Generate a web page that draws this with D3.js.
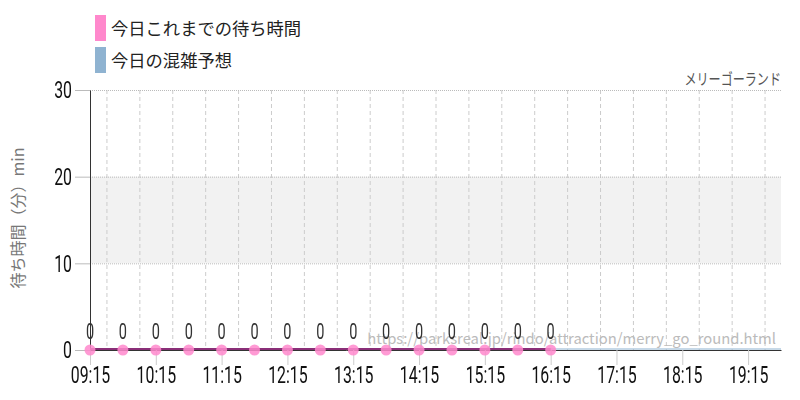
<!DOCTYPE html>
<html>
<head>
<meta charset="utf-8">
<script src="https://cdn.jsdelivr.net/npm/d3@7"></script>
<style>
  body { margin: 0; background: #fff; }
  .num { font-family: Roboto, sans-serif; font-weight: 400; }
  .jp { font-family: "Noto Sans CJK JP", sans-serif; }
</style>
</head>
<body>
<div id="chart"></div>
<script>
// data
const waitTimes = ['09:15', '09:45', '10:15', '10:45', '11:15', '11:45', '12:15', '12:45', '13:15', '13:45', '14:15', '14:45', '15:15', '15:45', '16:15'];
const waitValues = [0, 0, 0, 0, 0, 0, 0, 0, 0, 0, 0, 0, 0, 0, 0];
const forecastTimes = ['09:15', '19:45'];
const forecastValues = [0, 0];
const xTickLabels = ['09:15', '10:15', '11:15', '12:15', '13:15', '14:15', '15:15', '16:15', '17:15', '18:15', '19:15'];
const yTicks = [0, 10, 20, 30];
const band = [10, 20];
const legendLabels = ['今日これまでの待ち時間', '今日の混雑予想'];
const legendColors = ['#ff88cc', '#8fb3d1'];

const parseTime = d3.timeParse('%H:%M');
const squeeze = 0.66; // narrow digits

const dimensions = {
  width: 800,
  height: 400,
  margin: { top: 90, bottom: 50, left: 90, right: 19 },
};
dimensions.containerWidth = dimensions.width - dimensions.margin.left - dimensions.margin.right;
dimensions.containerHeight = dimensions.height - dimensions.margin.top - dimensions.margin.bottom;

const svg = d3.select('#chart').append('svg').attr('width', dimensions.width).attr('height', dimensions.height);
const container = svg.append('g').attr('transform', `translate(${dimensions.margin.left}, ${dimensions.margin.top})`);

const xScale = d3.scaleTime().domain([parseTime('09:15'), parseTime('19:45')]).range([0, dimensions.containerWidth]);
const yScale = d3.scaleLinear().domain([0, 30]).range([dimensions.containerHeight, 0]);

// busy band
container.append('rect')
  .attr('x', 0)
  .attr('y', yScale(band[1]))
  .attr('width', dimensions.containerWidth)
  .attr('height', yScale(band[0]) - yScale(band[1]))
  .attr('fill', '#f2f2f2');

// vertical grid
const halfHours = d3.timeMinute.every(30).range(parseTime('09:15'), d3.timeMinute.offset(parseTime('19:45'), 1));
container.append('g')
  .selectAll('line')
  .data(halfHours)
  .join('line')
  .attr('x1', (d) => xScale(d) + 0.5)
  .attr('x2', (d) => xScale(d) + 0.5)
  .attr('y1', 0)
  .attr('y2', dimensions.containerHeight)
  .attr('stroke', '#ccc')
  .attr('stroke-dasharray', (d) => (d.getMinutes() === 15 ? '1,2' : '4,3'));

// horizontal grid
container.append('g')
  .selectAll('line')
  .data(yTicks.filter((d) => d > 0))
  .join('line')
  .attr('x1', 0)
  .attr('x2', dimensions.containerWidth)
  .attr('y1', (d) => yScale(d) + 0.5)
  .attr('y2', (d) => yScale(d) + 0.5)
  .attr('stroke', '#bbb')
  .attr('stroke-dasharray', '1,1');

// watermark
container.append('text')
  .attr('x', dimensions.containerWidth - 5)
  .attr('y', dimensions.containerHeight - 6)
  .attr('text-anchor', 'end')
  .attr('fill', '#bbb')
  .attr('class', 'jp')
  .style('font-size', '14.8px')
  .text('https://parksreal.jp/rindo/attraction/merry_go_round.html');

// axes
const xAxis = d3.axisBottom(xScale)
  .tickValues(xTickLabels.map(parseTime))
  .tickFormat(d3.timeFormat('%H:%M'))
  .tickSize(15)
  .tickSizeOuter(0)
  .tickPadding(1);
const xAxisGroup = container.append('g')
  .attr('transform', `translate(0, ${dimensions.containerHeight})`)
  .style('opacity', 0.999)
  .call(xAxis);
xAxisGroup.select('.domain').attr('stroke', '#333');
xAxisGroup.selectAll('.tick line').attr('stroke', '#ccc');
xAxisGroup.selectAll('.tick text')
  .attr('class', 'num')
  .attr('fill', '#111')
  .attr('transform', `scale(${squeeze},1)`)
  .style('font-size', '24px');

const yAxis = d3.axisLeft(yScale).tickValues(yTicks).tickSize(15).tickSizeOuter(0).tickPadding(3);
const yAxisGroup = container.append('g').style('opacity', 0.999).call(yAxis);
yAxisGroup.select('.domain').attr('stroke', '#333');
yAxisGroup.selectAll('.tick line').attr('stroke', '#bbb');
yAxisGroup.selectAll('.tick text')
  .attr('class', 'num')
  .attr('fill', '#111')
  .attr('x', -18 / squeeze)
  .attr('transform', `scale(${squeeze},1)`)
  .style('font-size', '24px');

// forecast line
const line = d3.line().x((d) => xScale(d[0])).y((d) => yScale(d[1]));
container.append('path')
  .datum(forecastTimes.map((t, i) => [parseTime(t), forecastValues[i]]))
  .attr('d', line)
  .attr('fill', 'none')
  .attr('stroke', '#8fb3d1')
  .attr('stroke-width', 1)
  .attr('transform', 'translate(0,-1)');

// wait line
const waitData = waitTimes.map((t, i) => [parseTime(t), waitValues[i]]);
container.append('path')
  .datum(waitData)
  .attr('d', line)
  .attr('fill', 'none')
  .attr('stroke', '#8a2f78')
  .attr('stroke-width', 2)
  .attr('transform', 'translate(0,-1)');

container.append('g')
  .selectAll('circle')
  .data(waitData)
  .join('circle')
  .attr('cx', (d) => xScale(d[0]))
  .attr('cy', (d) => yScale(d[1]))
  .attr('r', 5.5)
  .attr('fill', '#ff88cc')
  .attr('fill-opacity', 0.85);

container.append('g')
  .style('opacity', 0.999)
  .selectAll('g')
  .data(waitData)
  .join('g')
  .attr('transform', (d) => `translate(${xScale(d[0])}, ${yScale(d[1]) - 11})`)
  .append('text')
  .attr('text-anchor', 'middle')
  .attr('class', 'num')
  .attr('fill', '#333')
  .attr('transform', `scale(${squeeze},1)`)
  .style('font-size', '22px')
  .text((d) => d[1]);

// title
svg.append('g')
  .attr('transform', 'translate(781, 85) scale(0.78,1)')
  .style('opacity', 0.999)
  .append('text')
  .attr('text-anchor', 'end')
  .attr('class', 'jp')
  .attr('fill', '#555')
  .style('font-size', '15.5px')
  .text('メリーゴーランド');

// y label
svg.append('text')
  .attr('transform', 'translate(24, 218) rotate(-90)')
  .attr('text-anchor', 'middle')
  .attr('class', 'jp')
  .attr('fill', '#777')
  .style('font-size', '16px')
  .text('待ち時間（分）min');

// legend
const legend = svg.append('g').attr('transform', 'translate(95, 15)');
legend.selectAll('rect')
  .data(legendLabels)
  .join('rect')
  .attr('x', 0)
  .attr('y', (d, i) => i * 32)
  .attr('width', 11)
  .attr('height', 26)
  .attr('fill', (d, i) => legendColors[i]);
legend.selectAll('text')
  .data(legendLabels)
  .join('text')
  .attr('x', 16)
  .attr('y', (d, i) => i * 32 + 20)
  .attr('class', 'jp')
  .attr('fill', '#222')
  .style('font-size', '17.3px')
  .text((d) => d);
</script>
</body>
</html>
